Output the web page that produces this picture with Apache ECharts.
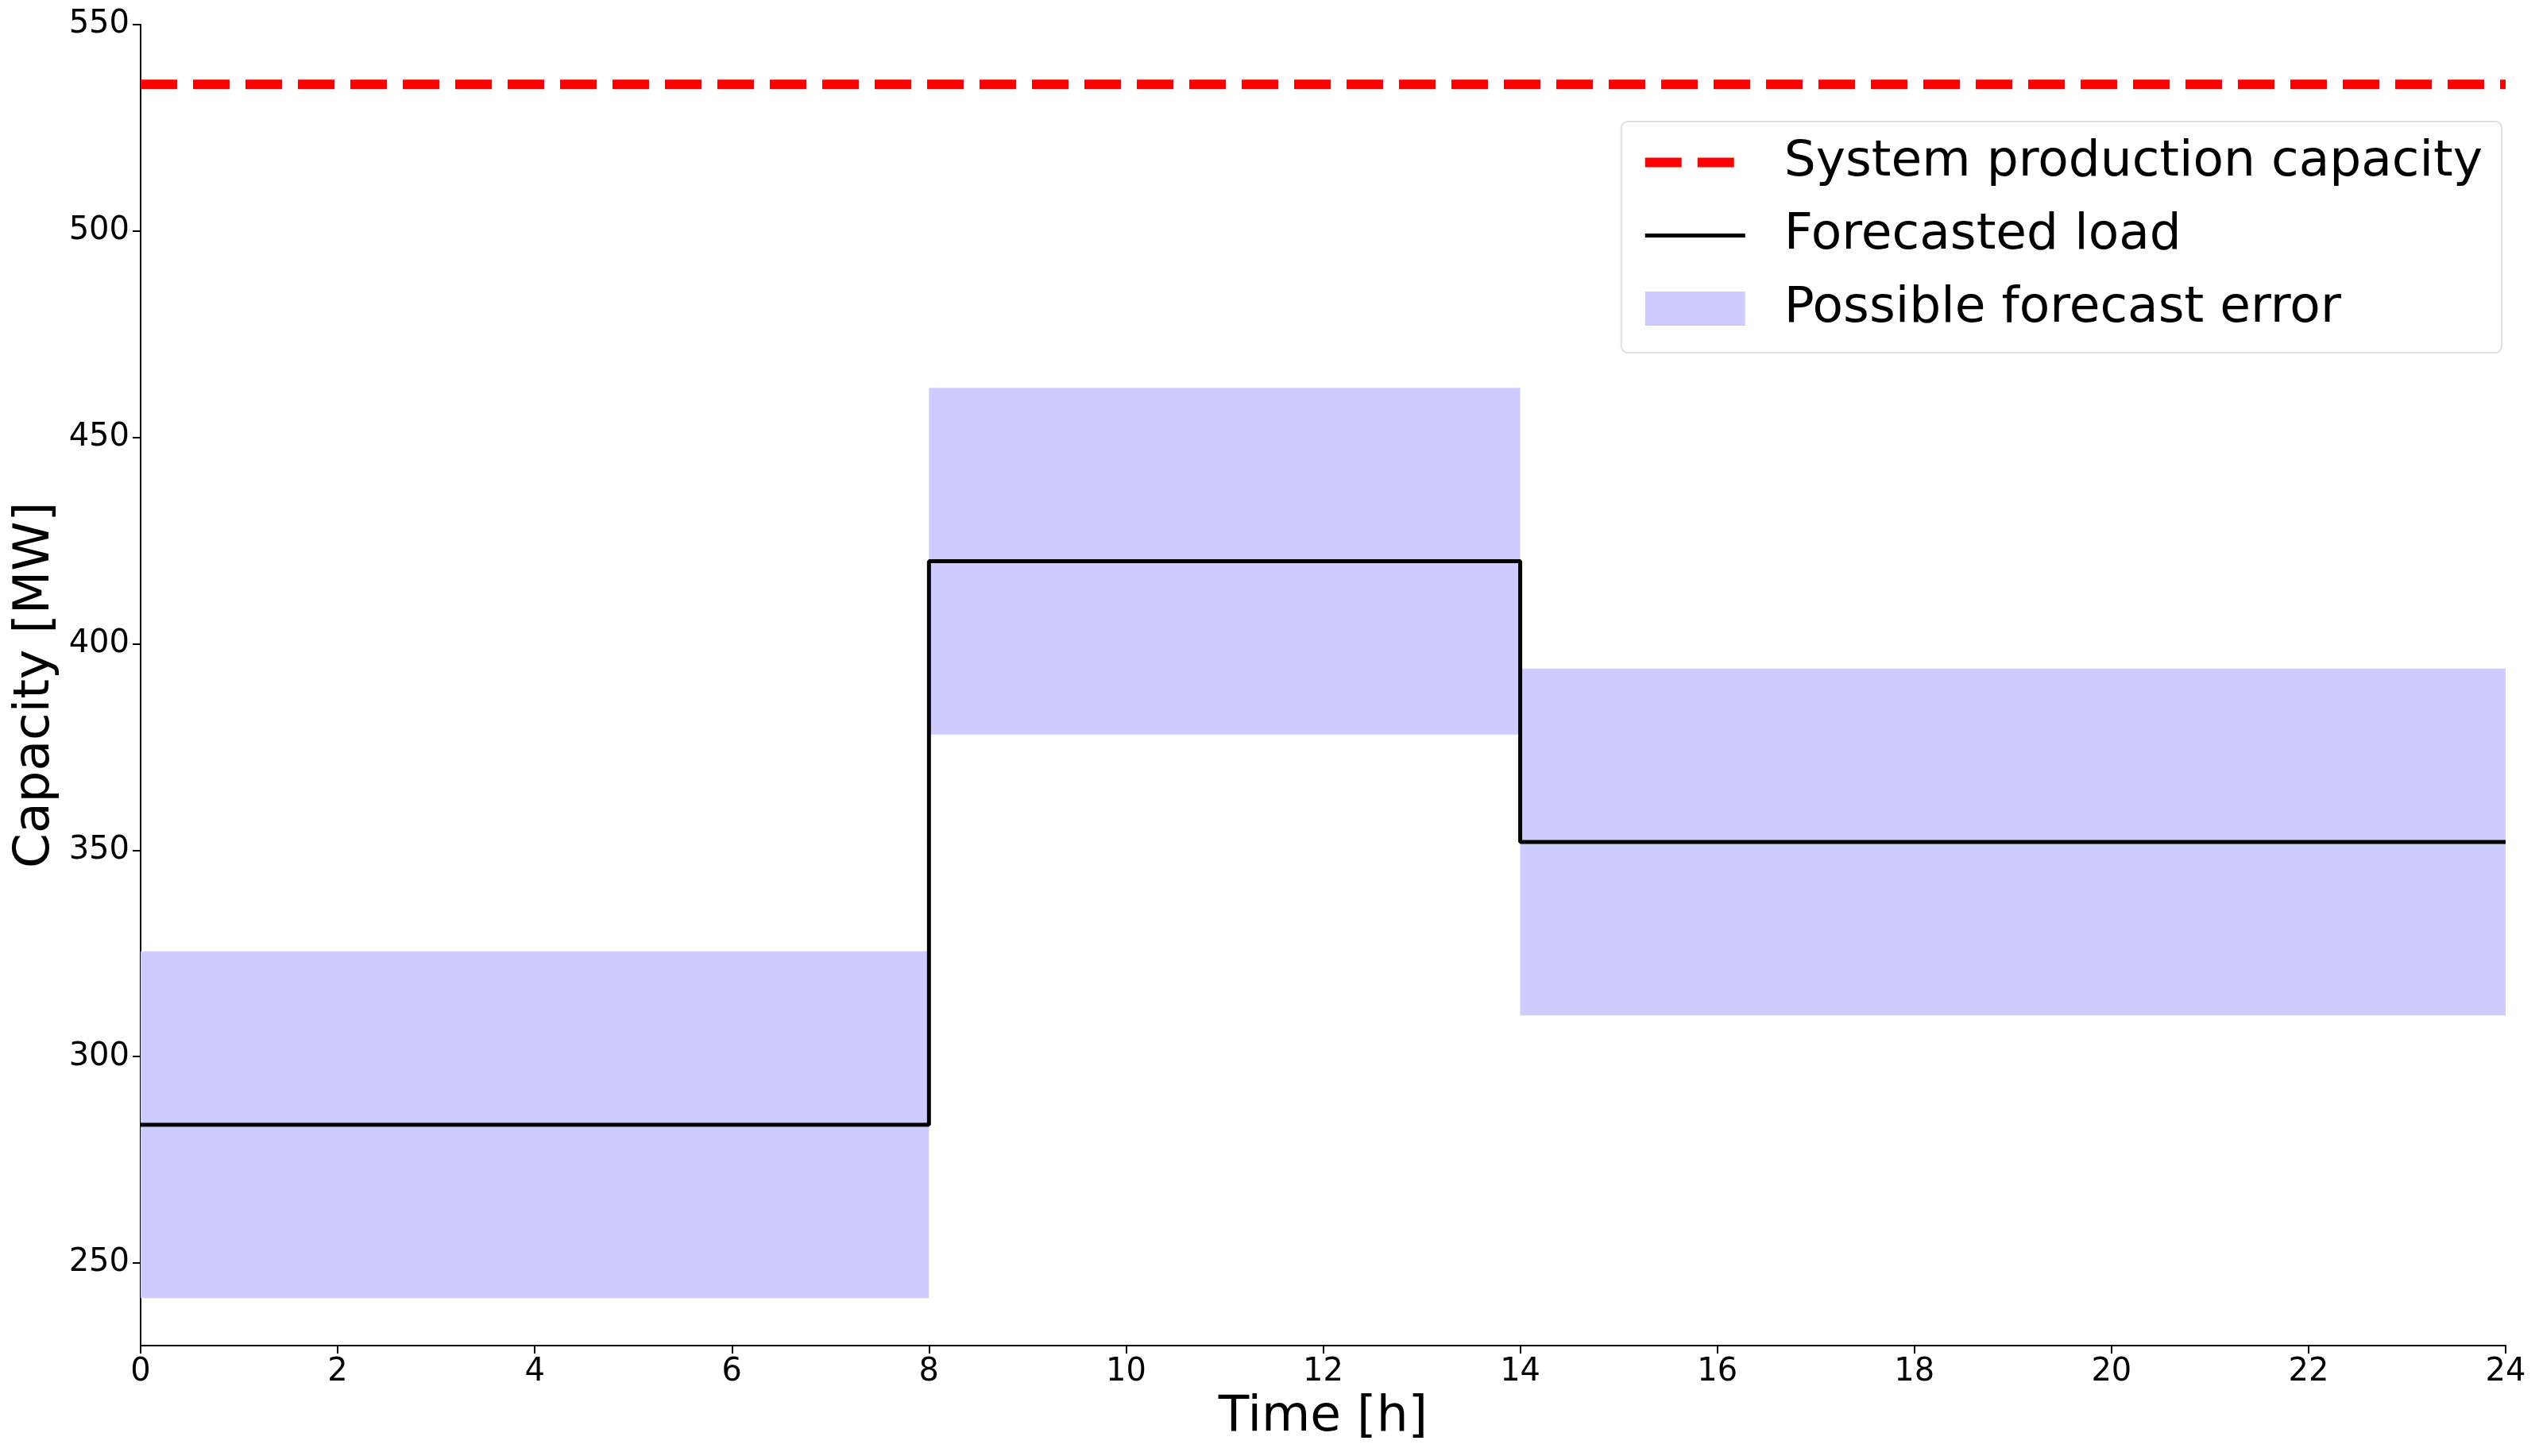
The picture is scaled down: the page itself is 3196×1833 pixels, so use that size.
<!DOCTYPE html>
<html>
<head>
<meta charset="utf-8">
<script src="https://cdn.jsdelivr.net/npm/echarts@6/dist/echarts.min.js"></script>
<style>
  html, body { margin: 0; padding: 0; background: #fff; }
  #chart { width: 3196px; height: 1833px; }
</style>
</head>
<body>
<div id="chart"></div>
<script>
// block edges in hours, one value per block between them
const hours = [0, 8, 14, 24];
const load = [283.5, 420, 352];
const errLow = [241.5, 378, 310];
const errHigh = [325.5, 462, 394];
const capacity = 535.5;
const yTicks = [250, 300, 350, 400, 450, 500, 550];

// step line points: each block value starts at its left edge, last one held to the end
let loadPts = [];
for (let i = 0; i < load.length; i++) loadPts.push([hours[i], load[i]]);
loadPts.push([hours[hours.length - 1], load[load.length - 1]]);

let bands = [];
for (let i = 0; i < load.length; i++) bands.push([hours[i], hours[i + 1], errLow[i], errHigh[i]]);

const font = "DejaVu Sans";
let chart = echarts.init(document.getElementById("chart"));
let option = {
  animation: false,
  backgroundColor: "#fff",
  textStyle: { fontFamily: font },
  grid: { left: 177, right: 42, top: 31, bottom: 139 },
  legend: {
    orient: "vertical",
    right: 47,
    top: 153,
    itemWidth: 126,
    itemHeight: 43,
    itemGap: 29,
    padding: [20, 24, 24, 24],
    borderColor: "#e0e0e0",
    borderWidth: 2,
    borderRadius: 8,
    backgroundColor: "rgba(255,255,255,0.8)",
    textStyle: { fontSize: 63, color: "#000", fontFamily: font, padding: [0, 0, 0, 44] },
    data: [
      { name: "System production capacity",
        itemStyle: { opacity: 0 },
        lineStyle: { color: "#ff0000", width: 12, type: [46, 20] } },
      { name: "Forecasted load",
        itemStyle: { opacity: 0 },
        lineStyle: { color: "#000", width: 5 } },
      { name: "Possible forecast error", icon: "rect" }
    ]
  },
  xAxis: {
    type: "value",
    min: 0,
    max: 24,
    interval: 2,
    name: "Time [h]",
    nameLocation: "middle",
    nameGap: 50,
    nameTextStyle: { fontSize: 63, color: "#000", fontFamily: font },
    axisLine: { lineStyle: { color: "#000", width: 2 } },
    axisTick: { length: 10, lineStyle: { color: "#000", width: 2 } },
    axisLabel: { fontSize: 40, color: "#000", margin: 14, fontFamily: font },
    splitLine: { show: false }
  },
  yAxis: {
    type: "value",
    min: 230,
    max: 550,
    name: "Capacity [MW]",
    nameLocation: "middle",
    nameGap: 100,
    nameTextStyle: { fontSize: 63, color: "#000", fontFamily: font },
    axisLine: { show: true, lineStyle: { color: "#000", width: 2 } },
    axisTick: { show: true, length: 10, customValues: yTicks, lineStyle: { color: "#000", width: 2 } },
    axisLabel: { fontSize: 40, color: "#000", margin: 14, fontFamily: font, customValues: yTicks },
    splitLine: { show: false }
  },
  series: [
    {
      name: "Possible forecast error",
      type: "custom",
      z: 1,
      itemStyle: { color: "#ccccff" },
      encode: { x: [0, 1], y: [2, 3] },
      data: bands,
      renderItem: function (params, api) {
        const p0 = api.coord([api.value(0), api.value(3)]);
        const p1 = api.coord([api.value(1), api.value(2)]);
        return {
          type: "rect",
          shape: { x: p0[0], y: p0[1], width: p1[0] - p0[0], height: p1[1] - p0[1] },
          style: { fill: "#ccccff" }
        };
      }
    },
    {
      name: "Forecasted load",
      type: "line",
      step: "end",
      z: 3,
      symbol: "none",
      color: "#000",
      lineStyle: { color: "#000", width: 5 },
      data: loadPts
    },
    {
      name: "System production capacity",
      type: "line",
      z: 4,
      symbol: "none",
      color: "#ff0000",
      lineStyle: { color: "#ff0000", width: 12, type: [46, 20] },
      data: [[hours[0], capacity], [hours[hours.length - 1], capacity]]
    }
  ]
};
chart.setOption(option);
</script>
</body>
</html>
